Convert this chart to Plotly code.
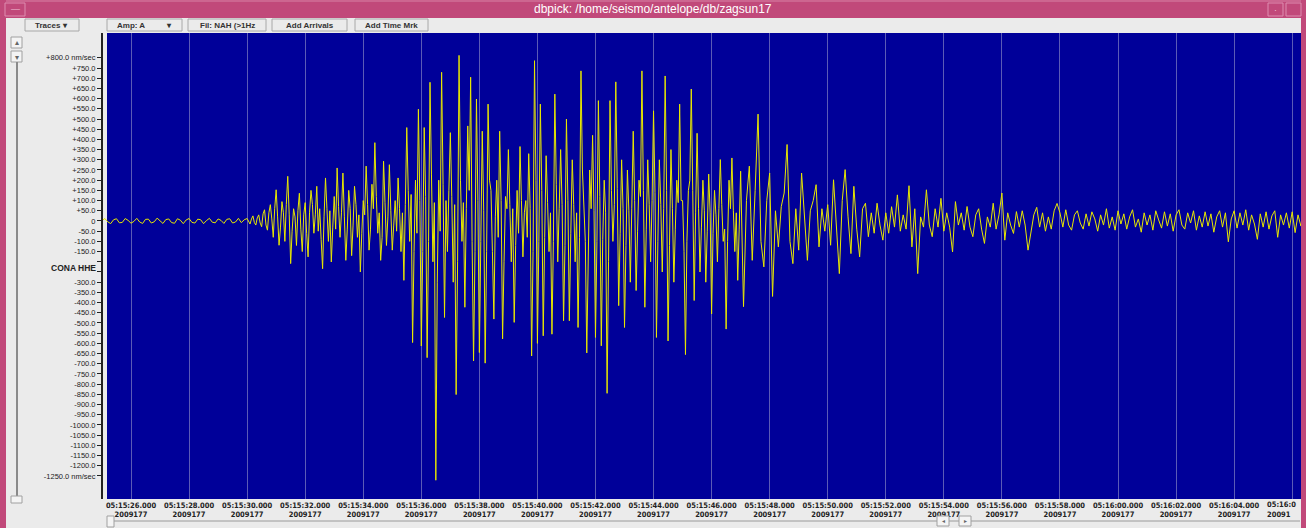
import plotly.graph_objects as go

# ---------------- data: station CONA, channel HHE, velocity in nm/sec ----------------
# values; each segment has its own start and sample interval
pre_event_start_s, pre_event_dt = 25.0, 0.1     # seconds after 05:15:00
pre_event = [
    2, 12, -4, -13, 6, 11, -9, -7, 12, 3,
    -11, -2, 13, -5, -12, 8, 9, -10, -4, 14,
    1, -12, 7, 10, -8, -11, 11, 4, -13, 5,
    12, -7, -10, 9, 6, -13, 2, 13, -6, -9,
    10, 3, -12, 8, 11, -10, -5, 13, -8, 6,
]

main_start_s, main_dt = 30.0, 0.05
p_and_s_waves = [
    12, -5, -15, 10, 25, -8, -20, 15, 30, -10, -28, 35, 55, -20, -45, 40, 80, 10, -80, 60,
    153, 20, -119, -30, 95, 40, -100, 80, 219, 30, -209, -50, 60, 20, -120, 50, 136, -40, -150, 30,
    90, -60, -176, 40, 150, 80, -60, 30, 170, -50, 60, -90, -234, 20, 211, 60, -100, 50, -201, -30,
    120, -40, 260, 70, -80, 40, 235, 20, -193, -40, 150, 60, -170, -20, 170, 80, -80, 30, -250, -60,
    100, 30, 269, 80, -143, -40, 180, 60, 384, 120, -60, 40, -193, -80, 293, 90, -120, 20, 276, 50,
    -143, -20, 100, -50, 211, 60, -150, 40, -291, 80, 458, 150, -100, 130, -596, -150, 200, -60, 548, 100,
    -613, -150, 458, 120, -670, -100, 680, 230, -200, 90, -1271, -300, 200, -50, 729, 180, -473, 100, -150, 150,
    433, 120, -300, 80, -851, -200, 812, 200, -100, 90, -423, 60, 466, 150, 705, -100, -686, -150, 598, 100,
    -645, -100, 440, 50, -697, -150, 573, 200, 150, -150, -481, 20, 200, -80, 440, 100, -578, -200, 120, 60,
    350, 80, -200, 60, -497, -120, 150, -60, 365, 100, -176, 40, 100, -80, 330, 60, -662, -150, 786, 200,
    -600, -100, 573, 150, -563, -80, 320, 90, -150, 40, -555, -100, 622, 180, -200, 60, 350, 80, -489, -120,
    500, 100, -489, -60, 300, 80, -200, 40, -522, -80, 736, 250, 100, -100, -647, -150, 250, 60, 420, 50,
    -571, -100, 590, 120, -612, -90, 200, 40, -845, -200, 590, 150, -100, 80, 682, 160, -415, -60, 300, 60,
    -522, -120, 250, 50, -300, 60, 440, 100, -341, -50, 200, 120, 736, 150, -423, -40, 300, 80, -200, 100,
    540, 140, -571, -100, 300, 80, -250, 60, 711, 150, -588, -120, 350, 60, -300, -40, 200, 90, 573, 100,
    100, -150, -655, -100, 150, 200, 647, 150, -390, 40, 430, 60, -250, -30, 200, 50, -300, -50, 230, 40,
    -456, -60, 150, 30, -200, 60, 301, 80, -100, -40, -530, -100, 200, 60, 309, 50, -150, 40, -291, -40,
]

coda_start_s, coda_dt = 47.0, 0.1
coda = [
    244, -420, 100, 269, -193, 150, 524, -100, -225, 100,
    235, -370, 50, -127, 71, 137, 375, -100, -209, 60,
    -143, 235, 40, -193, 50, 100, 178, -127, 60, -50,
    80, -119, 202, -50, -258, 100, 252, 20, -160, 170,
    -40, -176, 60, 87, -77, 40, -60, 87, -20, -94,
    40, -60, 70, -30, 128, -50, 30, -40, 173, -127,
    60, -258, 20, -30, 153, -20, -77, 60, -30, 111,
    -50, 40, -30, -152, 95, -20, 40, -45, 71, -30,
    -77, 30, 60, -40, -110, 20, -30, 87, -40, 30,
    137, -94, 40, -20, -61, 46, -30, 50, -20, -143,
    -60, 30, 67, -30, 40, -50, 20, -40, 50, 86,
    40, -30, 55, -20, -45, 30, 50, -10, -40, 35,
    -25, 45, 10, -50, 30, -20, 60, -35, 20, -45,
    50, -15, 35, -40, 20, 55, -30, 10, -55, 40,
    -20, 30, -45, 50, 5, -35, 45, -25, 35, -50,
    30, 55, -20, -40, 40, -10, 50, -45, 25, -30,
    45, -25, 35, -55, 20, 50, -30, 40, -102, 10,
    50, -35, 40, -20, 55, -45, 30, -15, -90, 35,
    -30, 45, -40, 25, 50, -80, 30, -20, 40, -35,
    45, -57, 30, -25, 40, -30, 20, -40, 35, -20,
]

tick_seconds = [26, 28, 30, 32, 34, 36, 38, 40, 42, 44, 46, 48, 50,
                52, 54, 56, 58, 60, 62, 64, 66]
tick_times = ["05:15:26.000", "05:15:28.000", "05:15:30.000", "05:15:32.000",
              "05:15:34.000", "05:15:36.000", "05:15:38.000", "05:15:40.000",
              "05:15:42.000", "05:15:44.000", "05:15:46.000", "05:15:48.000",
              "05:15:50.000", "05:15:52.000", "05:15:54.000", "05:15:56.000",
              "05:15:58.000", "05:16:00.000", "05:16:02.000", "05:16:04.000",
              "05:16:06.000"]
# the last tick label is cut off by the window border in the reference
last_tick_visible = ("05:16:0", "20091")
julian_day = "2009177"
amp_ticks = list(range(-1250, 801, 50))
amp_unit = "nm/sec"
station_label = "CONA HHE"
window_title = "dbpick: /home/seismo/antelope/db/zagsun17"
buttons = ["Traces \u25be", "Amp: A          \u25be", "Fil: NAH (>1Hz", "Add Arrivals", "Add Time Mrk"]

# ---------------- build ----------------
times, amps = [], []
for start, dt, vals in [(pre_event_start_s, pre_event_dt, pre_event),
                        (main_start_s, main_dt, p_and_s_waves),
                        (coda_start_s, coda_dt, coda)]:
    times += [start + i * dt for i in range(len(vals))]
    amps += vals

def amp_label(v):
    if v in (-200, -250):
        return ""
    if v == 0:
        return "0"
    s = ("+" if v > 0 else "-") + f"{abs(v):.1f}"
    if v in (amp_ticks[0], amp_ticks[-1]):
        s += " " + amp_unit
    return s

W, H = 1306, 528
ML, MR, MT, MB = 103, 5, 33, 29
PW, PH = W - ML - MR, H - MT - MB

def px(x):
    return (x - ML) / PW

def py(y):
    return (H - MB - y) / PH

fig = go.Figure()
fig.add_trace(go.Scatter(
    x=times, y=amps, mode="lines",
    line=dict(color="#e8e800", width=1),
    hoverinfo="skip", showlegend=False,
))

shapes = []
def rect(x0, y0, x1, y1, fill=None, line=None, lw=1, layer="above"):
    shapes.append(dict(type="rect", xref="paper", yref="paper",
                       x0=px(x0), x1=px(x1), y0=py(y1), y1=py(y0),
                       fillcolor=fill if fill else "rgba(0,0,0,0)",
                       line=dict(color=line if line else "rgba(0,0,0,0)", width=lw),
                       layer=layer))

def hline(x0, x1, y, color, lw=1):
    shapes.append(dict(type="line", xref="paper", yref="paper",
                       x0=px(x0), x1=px(x1), y0=py(y), y1=py(y),
                       line=dict(color=color, width=lw)))

def vline(x, y0, y1, color, lw=1):
    shapes.append(dict(type="line", xref="paper", yref="paper",
                       x0=px(x), x1=px(x), y0=py(y0), y1=py(y1),
                       line=dict(color=color, width=lw)))

PINK = "#c1497a"
# plot background (blue)
rect(107, 33, 1301, 499, fill="#000099", layer="below")
# window frame
rect(0, 0, 1306, 18, fill=PINK)
hline(0, 1306, 1, "#d884a6")
rect(0, 0, 6, 528, fill=PINK)
rect(1301, 0, 1306, 528, fill=PINK)
rect(5, 3, 25, 16, line="#de8eb0")
rect(1268, 3, 1283, 16, line="#de8eb0")
rect(1286, 3, 1301, 16, line="#de8eb0")
# toolbar buttons
btn_x = [(25, 79), (107, 182), (188, 266), (272, 347), (355, 428)]
for (a, b) in btn_x:
    rect(a, 19, b, 31, line="#a8a8a8")
# left scroll bar
rect(11, 37, 22, 48, fill="#f4f4f4", line="#a0a0a0")
rect(11, 51, 22, 62, fill="#f4f4f4", line="#a0a0a0")
vline(17, 62, 498, "#8a8a8a", 2)
rect(11, 496, 22, 503, fill="#f4f4f4", line="#a0a0a0")
# bottom scroll bar
hline(112, 1300, 521, "#9a9a9a", 1)
rect(107, 516, 114, 527, fill="#f4f4f4", line="#a0a0a0")
rect(937, 516, 949, 526, fill="#f4f4f4", line="#a0a0a0")
rect(959, 516, 971, 526, fill="#f4f4f4", line="#a0a0a0")

ann = []
def text(x, y, s, size=8, color="#222", bold=False, xanchor="center", family="Liberation Sans"):
    ann.append(dict(xref="paper", yref="paper", x=px(x), y=py(y), text=(f"<b>{s}</b>" if bold else s),
                    showarrow=False, xanchor=xanchor, yanchor="middle",
                    font=dict(size=size, color=color, family=family)))

text(653, 9.5, window_title, size=12, color="white")
text(15, 9, "\u2014", size=9, color="#f0c0d4")
text(1275.5, 10, "\u00b7", size=9, color="#f0c0d4")
for (a, b), s in zip(btn_x, buttons):
    text((a + b) / 2, 25, s, size=8, color="#333", bold=True)
text(16.5, 43, "\u25b4", size=8, color="#666")
text(16.5, 57, "\u25be", size=8, color="#666")
text(943, 521, "\u25c2", size=6, color="#666")
text(965, 521, "\u25b8", size=6, color="#666")
ann.append(dict(xref="paper", yref="y", x=px(98), y=-230, text=f"<b>{station_label}</b>",
                showarrow=False, xanchor="right", yanchor="middle",
                font=dict(size=8.5, color="#222", family="Liberation Sans")))
# truncated last time label
ann.append(dict(xref="paper", yref="paper", x=px(1266), y=py(499), xanchor="left", yanchor="top",
                text=f"<b>{last_tick_visible[0]}</b><br><b>{last_tick_visible[1]}</b>",
                showarrow=False, align="left", borderpad=0,
                font=dict(size=7.5, color="#222", family="DejaVu Sans Condensed")))

fig.update_layout(
    width=W, height=H,
    margin=dict(l=ML, r=MR, t=MT, b=MB, pad=0),
    paper_bgcolor="#ebebeb",
    plot_bgcolor="#ebebeb",
    showlegend=False,
    shapes=shapes,
    annotations=ann,
    xaxis=dict(
        range=[26 + (103 - 131) / 29.03, 26 + (1301 - 131) / 29.03],
        tickvals=tick_seconds,
        ticktext=[("" if t == tick_times[-1] else f"<b>{t}</b><br><b>{julian_day}</b>") for t in tick_times],
        tickfont=dict(size=7.5, color="#222", family="DejaVu Sans Condensed"),
        ticks="", showgrid=True, gridcolor="rgba(165,165,205,0.55)", gridwidth=1,
        zeroline=False, showline=False, fixedrange=True,
    ),
    yaxis=dict(
        range=[-1363, 921.6],
        tickvals=amp_ticks,
        ticktext=[amp_label(v) for v in amp_ticks],
        tickfont=dict(size=7.5, color="#222", family="Liberation Sans"),
        ticks="outside", ticklen=4, tickcolor="#222", tickwidth=1,
        showgrid=False, zeroline=False,
        showline=True, linecolor="#222", linewidth=2, fixedrange=True,
    ),
)

fig.write_html("out.html", config={"displayModeBar": False},
               post_script="document.body.style.margin='0px';document.body.style.overflow='hidden';")
